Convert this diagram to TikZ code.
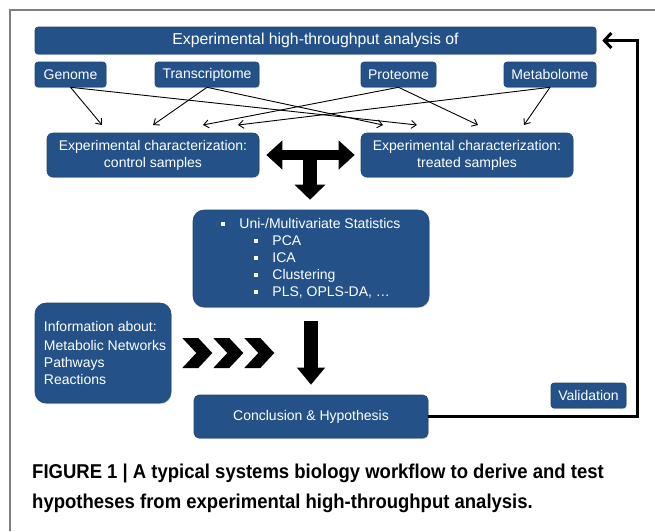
\documentclass[tikz,border=0pt]{standalone}
\usepackage{fontspec}
\setmainfont{Liberation Sans}
\newfontfamily\capfont[FakeStretch=0.925]{Liberation Sans}
\usetikzlibrary{calc,arrows.meta,shadows}

\definecolor{boxblue}{RGB}{36,82,136}
\definecolor{framegray}{RGB}{128,128,128}

\tikzset{
  bluebox/.style={draw=boxblue!85!black, fill=boxblue, text=white, line width=0.6pt,
    rounded corners=3pt, inner sep=0pt, font=\fontsize{14}{17}\selectfont,
    drop shadow={shadow xshift=0.6pt, shadow yshift=-1.2pt, opacity=0.3}},
  bigbox/.style={bluebox, rounded corners=11pt},
  thinarrow/.style={-{Straight Barb[length=5pt,width=8pt]}, line width=0.9pt},
  fatarrow/.style={line width=#1, draw=black},
  backline/.style={line width=3pt, -{Straight Barb[length=7pt,width=15pt]}},
  captext/.style={anchor=base west, inner sep=0pt, font=\capfont\fontsize{20}{24}\selectfont\bfseries},
}
\newcommand{\blt}{\makebox[18pt][l]{\rule[3pt]{3.6pt}{3.6pt}}}

\begin{document}
\begin{tikzpicture}[x=1pt,y=-1pt]
\useasboundingbox (0,0) rectangle (655,531);

\begin{scope}
\coordinate (ptop) at (315.5,40.5);
\coordinate (pgen) at (70.5,74.5);
\coordinate (ptrans) at (207,74.5);
\coordinate (pprot) at (398.5,74.5);
\coordinate (pmetab) at (550,74.5);
\coordinate (pctrl) at (153,155);
\coordinate (ptreat) at (467,155);
\coordinate (pstats) at (311,258.5);
\coordinate (pinfo) at (103,353);
\coordinate (pconcl) at (311,416.5);
\coordinate (pvalid) at (588.5,395.5);

\coordinate (c1) at (102,125);
\coordinate (c2) at (153,125);
\coordinate (c3) at (203,125);
\coordinate (c4) at (238,125);
\coordinate (t1) at (383,125);
\coordinate (t2) at (417,125);
\coordinate (t3) at (478,125);
\coordinate (t4) at (524,125);
\coordinate (fb) at (637,416.5);

\draw[framegray, line width=2pt] (655,10) -- (10,10) -- (10,531);

\node[bluebox, minimum width=561, minimum height=27, font=\fontsize{15.8}{18}\selectfont] (top) at (ptop) {Experimental high-throughput analysis of};
\node[bluebox, minimum width=71, minimum height=25] (gen) at (pgen) {Genome};
\node[bluebox, minimum width=104, minimum height=25] (trans) at (ptrans) {Transcriptome};
\node[bluebox, minimum width=75, minimum height=25] (prot) at (pprot) {Proteome};
\node[bluebox, minimum width=92, minimum height=25] (metab) at (pmetab) {Metabolome};
\node[bluebox, rounded corners=6pt, minimum width=212, minimum height=44, align=center] (ctrl) at (pctrl) {Experimental characterization:\\control samples};
\node[bluebox, rounded corners=6pt, minimum width=212, minimum height=44, align=center] (treat) at (ptreat) {Experimental characterization:\\treated samples};
\node[bigbox, minimum width=236, minimum height=97, align=left] (stats) at (pstats)
  {\blt Uni-/Multivariate Statistics\\
   \hspace*{33pt}\blt PCA\\
   \hspace*{33pt}\blt ICA\\
   \hspace*{33pt}\blt Clustering\\
   \hspace*{33pt}\blt PLS, OPLS-DA, \dots};
\node[bigbox, minimum width=136, minimum height=100, align=left] (info) at (pinfo)
  {\hspace*{4pt}Information about:\\[2pt]\hspace*{4pt}Metabolic Networks\\\hspace*{4pt}Pathways\\\hspace*{4pt}Reactions};
\node[bluebox, rounded corners=5pt, minimum width=234, minimum height=43] (concl) at (pconcl) {Conclusion \& Hypothesis};
\node[bluebox, minimum width=75, minimum height=25] (valid) at (pvalid) {Validation};

\draw[thinarrow] (gen.south) -- (c1);
\draw[thinarrow] (gen.south) -- (t2);
\draw[thinarrow] (trans.south) -- (c2);
\draw[thinarrow] (trans.south) -- (t1);
\draw[thinarrow] (prot.south) -- (c3);
\draw[thinarrow] (prot.south) -- (t3);
\draw[thinarrow] (metab.south) -- (c4);
\draw[thinarrow] (metab.south) -- (t4);

\coordinate (tmid) at ($(ctrl.east)!0.5!(treat.west)$);
\draw[fatarrow=14pt, -{Triangle[width=30pt,length=15pt]}, shorten >=10pt] ([yshift=-2pt]tmid) -- (tmid |- stats.north);
\draw[fatarrow=10pt, {Triangle[width=28pt,length=16pt]}-{Triangle[width=28pt,length=16pt]}, shorten <=7pt, shorten >=6pt] (ctrl.east) -- (treat.west);

\draw[fatarrow=14pt, -{Triangle[width=27pt,length=17pt]}, shorten <=14pt, shorten >=10pt] (stats.south) -- (concl.north);

\foreach \i in {0,1,2}
  \fill[black, shift={($(info.east)+(11+31*\i,0)$)}] (0,-15) -- (16,-15) -- (30,0) -- (16,15) -- (0,15) -- (14,0) -- cycle;

\draw[backline] (concl.east) -- (fb) |- ([xshift=6pt]top.east);

\node[captext] (cap1) at (32,478) {FIGURE 1 | A typical systems biology workflow to derive and test};
\node[captext] (cap2) at (32,508) {hypotheses from experimental high-throughput analysis.};
\end{scope}

\end{tikzpicture}
\end{document}
